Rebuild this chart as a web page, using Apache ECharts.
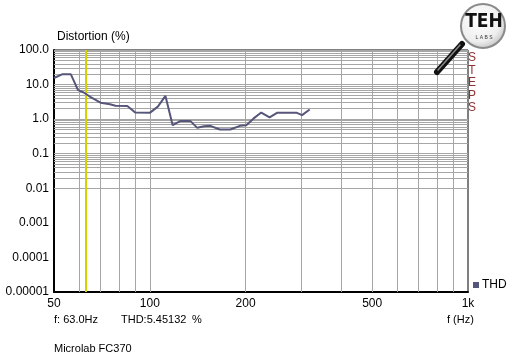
<!DOCTYPE html>
<html>
<head>
<meta charset="utf-8">
<script src="https://cdn.jsdelivr.net/npm/echarts@6/dist/echarts.min.js"></script>
<style>
html,body{margin:0;padding:0;background:#fff;}
#chart{width:512px;height:359px;}
</style>
</head>
<body>
<div id="chart"></div>
<script>
// ---- data ----
var freqHz = [50, 53, 56.5, 59.5, 62, 65, 70, 75, 78, 85, 90, 100, 106, 112, 118, 125, 134, 141, 148, 155, 166, 179, 192, 201, 212, 224, 238, 251, 290, 301, 318];
var thdPct = [15.5, 19.8, 19.8, 6.9, 5.9, 4.4, 3.0, 2.7, 2.45, 2.4, 1.55, 1.52, 2.3, 4.7, 0.67, 0.89, 0.89, 0.56, 0.62, 0.64, 0.5, 0.5, 0.64, 0.67, 1.05, 1.55, 1.12, 1.52, 1.52, 1.31, 1.9];
var xTickValues = [50, 100, 200, 500, 1000];
var xTickLabels = ['50', '100', '200', '500', '1k'];
var yTickValues = [0.00001, 0.0001, 0.001, 0.01, 0.1, 1, 10, 100];
var yTickLabels = ['0.00001', '0.0001', '0.001', '0.01', '0.1', '1.0', '10.0', '100.0'];
var xGridValues = [60, 70, 80, 90, 100, 200, 300, 400, 500, 600, 700, 800, 900];
var cursorFreq = 63;

// minor/major horizontal grid values (log decades with 2..9 minors)
var yGridValues = [];
for (var e = -5; e < 2; e++) {
  for (var m = 1; m <= 9; m++) {
    var v = m * Math.pow(10, e);
    if (e === -5 && m === 1) continue;
    yGridValues.push(v);
  }
}
yGridValues.push(100);

function nearestLabel(val, values, labels) {
  var best = 0, bd = Infinity;
  for (var i = 0; i < values.length; i++) {
    var d = Math.abs(Math.log(val) - Math.log(values[i]));
    if (d < bd) { bd = d; best = i; }
  }
  return labels[best];
}

var gridLines = [];
xGridValues.forEach(function (v) { gridLines.push({ xAxis: v }); });
yGridValues.forEach(function (v) { gridLines.push({ yAxis: v }); });

var font = '"Liberation Sans", Arial, sans-serif';
var chart = echarts.init(document.getElementById('chart'), null, { renderer: 'canvas' });

chart.setOption({
  animation: false,
  backgroundColor: '#ffffff',
  grid: { left: 54, right: 44, top: 50, bottom: 67, show: true, borderColor: '#000', borderWidth: 1, backgroundColor: 'transparent' },
  xAxis: {
    type: 'log', logBase: 10, min: 50, max: 1000,
    axisLine: { show: true, onZero: false, lineStyle: { color: '#000', width: 2 } },
    axisTick: { show: false },
    splitLine: { show: false },
    axisLabel: {
      customValues: xTickValues,
      color: '#000', fontFamily: font, fontSize: 12, margin: 6,
      formatter: function (v) { return nearestLabel(v, xTickValues, xTickLabels); }
    }
  },
  yAxis: {
    type: 'log', logBase: 10, min: 0.00001, max: 100,
    axisLine: { show: true, onZero: false, lineStyle: { color: '#000', width: 2 } },
    axisTick: { show: false },
    splitLine: { show: false },
    axisLabel: {
      customValues: yTickValues,
      color: '#000', fontFamily: font, fontSize: 12, margin: 5,
      formatter: function (v) { return nearestLabel(v, yTickValues, yTickLabels); }
    }
  },
  legend: {
    data: ['THD'], left: 473, top: 279, padding: 0, icon: 'rect', itemWidth: 6, itemHeight: 6, itemGap: 4,
    textStyle: { color: '#000', fontFamily: font, fontSize: 12, padding: [0, 0, 0, -2] }
  },
  series: [
    {
      name: 'grid', type: 'line', z: 1, silent: true,
      data: [[100, 1]], symbol: 'none', lineStyle: { opacity: 0 },
      markLine: {
        silent: true, symbol: 'none', animation: false,
        label: { show: false },
        lineStyle: { color: '#a6a6a6', width: 1, type: 'solid' },
        emphasis: { disabled: true },
        data: gridLines
      }
    },
    {
      name: 'cursor', type: 'line', z: 2, silent: true,
      data: [[100, 1]], symbol: 'none', lineStyle: { opacity: 0 },
      markLine: {
        silent: true, symbol: 'none', animation: false,
        label: { show: false },
        lineStyle: { color: '#d2d200', width: 2, type: 'solid' },
        emphasis: { disabled: true },
        data: [{ xAxis: cursorFreq }]
      }
    },
    {
      name: 'THD', type: 'line', z: 5,
      data: freqHz.map(function (f, i) { return [f, thdPct[i]]; }),
      symbol: 'none',
      itemStyle: { color: '#56567a' },
      lineStyle: { color: '#56567a', width: 2 }
    }
  ],
  graphic: [
    { type: 'text', left: 57, top: 31, style: { text: 'Distortion (%)', fill: '#000', font: '12px ' + font } },
    { type: 'text', left: 54, top: 314, style: { text: 'f: 63.0Hz', fill: '#000', font: '11px ' + font } },
    { type: 'text', left: 121, top: 314, style: { text: 'THD:5.45132', fill: '#000', font: '11px ' + font } },
    { type: 'text', left: 192, top: 314, style: { text: '%', fill: '#000', font: '11px ' + font } },
    { type: 'text', left: 447, top: 314, style: { text: 'f (Hz)', fill: '#000', font: '11px ' + font } },
    { type: 'text', left: 54, top: 343, style: { text: 'Microlab FC370', fill: '#000', font: '11px ' + font } },
    // STEPS vertical
    { type: 'text', x: 472, y: 58, style: { text: 'S', fill: '#8b3434', font: '12px ' + font, align: 'center', verticalAlign: 'middle' } },
    { type: 'text', x: 472, y: 70.5, style: { text: 'T', fill: '#8b3434', font: '12px ' + font, align: 'center', verticalAlign: 'middle' } },
    { type: 'text', x: 472, y: 83, style: { text: 'E', fill: '#8b3434', font: '12px ' + font, align: 'center', verticalAlign: 'middle' } },
    { type: 'text', x: 472, y: 95.5, style: { text: 'P', fill: '#8b3434', font: '12px ' + font, align: 'center', verticalAlign: 'middle' } },
    { type: 'text', x: 472, y: 108, style: { text: 'S', fill: '#8b3434', font: '12px ' + font, align: 'center', verticalAlign: 'middle' } },
    // logo handle
    { type: 'line', shape: { x1: 462, y1: 44, x2: 437, y2: 72 }, style: { stroke: '#111', lineWidth: 6, lineCap: 'round' }, z: 10 },
    { type: 'line', shape: { x1: 460, y1: 45, x2: 438, y2: 70 }, style: { stroke: '#888', lineWidth: 1.5, lineCap: 'round' }, z: 11 },
    // logo lens
    { type: 'circle', shape: { cx: 483, cy: 26, r: 22 }, z: 12,
      style: { stroke: '#8a8a8a', lineWidth: 2,
        fill: { type: 'radial', x: 0.4, y: 0.35, r: 0.7, colorStops: [{ offset: 0, color: '#ffffff' }, { offset: 0.7, color: '#eeeeee' }, { offset: 1, color: '#bdbdbd' }] } } },
    { type: 'text', x: 484, y: 22, z: 13, style: { text: 'TEH', fill: '#111', font: 'bold 19px "Liberation Sans Narrow", "DejaVu Sans Condensed", sans-serif', align: 'center', verticalAlign: 'middle' } },
    { type: 'text', x: 484, y: 38, z: 13, style: { text: 'L A B S', fill: '#333', font: '5px ' + font, align: 'center', verticalAlign: 'middle' } }
  ]
});
</script>
</body>
</html>
